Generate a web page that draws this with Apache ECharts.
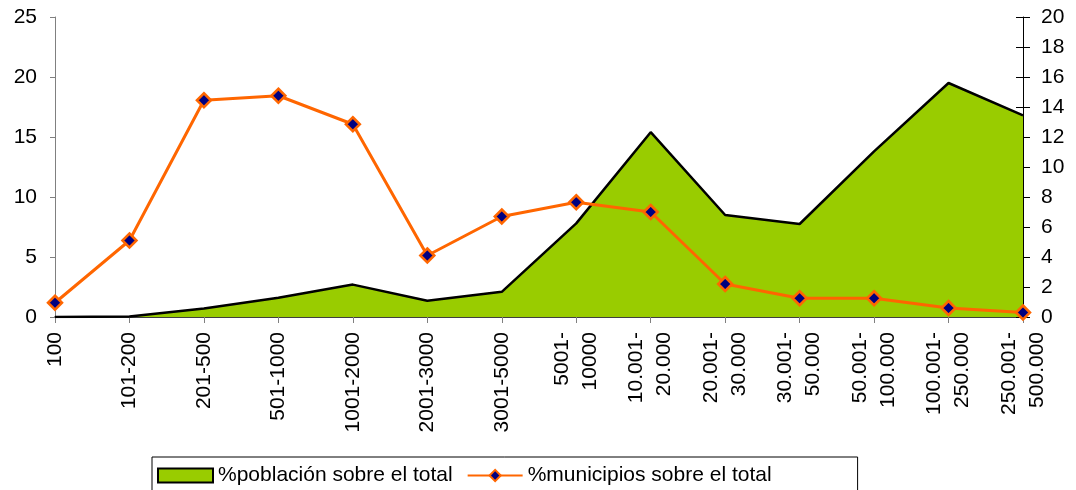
<!DOCTYPE html>
<html>
<head>
<meta charset="utf-8">
<script src="https://cdn.jsdelivr.net/npm/echarts@6/dist/echarts.min.js"></script>
<style>
  * { margin: 0; padding: 0; }
  body { background: #fff; }
</style>
</head>
<body>
<div id="main" style="width:1076px;height:490px;"></div>
<script>
  // categorias (tamaño del municipio)
  var categorias = ['100', '101-200', '201-500', '501-1000', '1001-2000', '2001-3000', '3001-5000',
    '5001-\n10000', '10.001-\n20.000', '20.001-\n30.000', '30.001-\n50.000',
    '50.001-\n100.000', '100.001-\n250.000', '250.001-\n500.000']
  // eje izquierdo 0-25
  var poblacion = [0, 0.05, 0.7, 1.6, 2.7, 1.35, 2.1, 7.8, 15.4, 8.5, 7.75, 13.8, 19.5, 16.8]
  // eje derecho 0-20
  var municipios = [0.95, 5.1, 14.45, 14.75, 12.85, 4.1, 6.7, 7.65, 7.0, 2.2, 1.25, 1.25, 0.6, 0.3]

  var fuente = 'Liberation Sans, Arial, sans-serif'
  var chart = echarts.init(document.getElementById('main'))

  chart.setOption({
    animation: false,
    textStyle: { fontFamily: fuente },
    grid: { left: 55, right: 53, top: 17, bottom: 173 },
    legend: {
      left: 152, top: 457,
      padding: [8, 86, 20, 5],
      borderColor: '#000', borderWidth: 1,
      itemWidth: 55, itemHeight: 14, itemGap: 14,
      textStyle: { fontSize: 21, color: '#000', fontFamily: fuente },
      data: [
        { name: '%población sobre el total', icon: 'rect', itemStyle: { color: '#99CC00', borderColor: '#000', borderWidth: 2 } },
        { name: '%municipios sobre el total' }
      ]
    },
    xAxis: {
      type: 'category',
      boundaryGap: false,
      data: categorias,
      axisLine: { lineStyle: { color: '#000', width: 1.5 } },
      axisTick: { show: true, length: 6, lineStyle: { color: '#808080' } },
      axisLabel: { rotate: 90, interval: 0, margin: 15, fontSize: 21, color: '#000', fontFamily: fuente, lineHeight: 28 },
      splitLine: { show: false }
    },
    yAxis: [
      {
        type: 'value', min: 0, max: 25, interval: 5, position: 'left',
        axisLine: { show: true, lineStyle: { color: '#808080' } },
        axisTick: { show: true, length: 5, lineStyle: { color: '#808080' } },
        axisLabel: { margin: 18, fontSize: 21, color: '#000', fontFamily: fuente },
        splitLine: { show: false }
      },
      {
        type: 'value', min: 0, max: 20, interval: 2, position: 'right',
        axisLine: { show: true, lineStyle: { color: '#000' } },
        axisTick: { show: true, length: 7, lineStyle: { color: '#000' } },
        axisLabel: { margin: 18, fontSize: 21, color: '#000', fontFamily: fuente },
        splitLine: { show: false }
      },
      {
        // solo marcas hacia dentro del eje derecho
        type: 'value', min: 0, max: 20, interval: 2, position: 'right',
        axisLine: { show: false },
        axisTick: { show: true, inside: true, length: 7, lineStyle: { color: '#000' } },
        axisLabel: { show: false },
        splitLine: { show: false }
      }
    ],
    series: [
      {
        name: '%población sobre el total',
        type: 'line',
        yAxisIndex: 0,
        data: poblacion,
        symbol: 'none',
        lineStyle: { color: '#000', width: 2.5 },
        itemStyle: { color: '#99CC00', borderColor: '#000' },
        areaStyle: { color: '#99CC00', opacity: 1 },
        z: 1
      },
      {
        name: '%municipios sobre el total',
        type: 'line',
        yAxisIndex: 1,
        data: municipios,
        symbol: 'diamond',
        symbolSize: 14,
        lineStyle: { color: '#FF6600', width: 3 },
        itemStyle: { color: '#000080', borderColor: '#FF6600', borderWidth: 2.5 },
        z: 3
      }
    ]
  })
</script>
</body>
</html>
